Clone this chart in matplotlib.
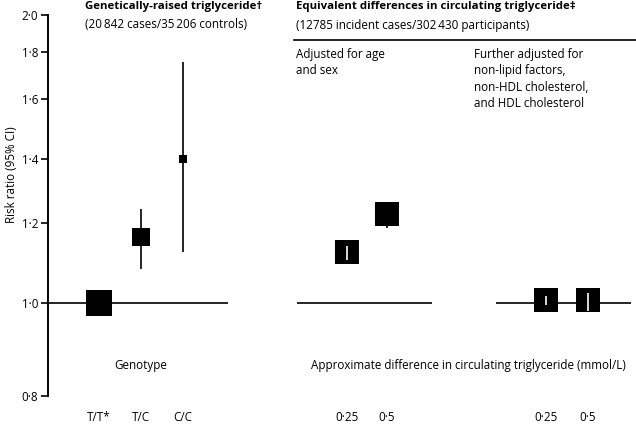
import numpy as np
import matplotlib
matplotlib.use("Agg")
import matplotlib.pyplot as plt
from matplotlib.lines import Line2D

plt.rcParams['font.family'] = ['Open Sans', 'DejaVu Sans']

# ---- data ----
geno_labels = ["T/T*", "T/C", "C/C"]
geno_rr = [1.0, 1.167, 1.40]
geno_lo = [1.0, 1.087, 1.128]
geno_hi = [1.0, 1.245, 1.757]

diff_labels = ["0·25", "0·5"]
agesex_rr = [1.128, 1.228]
agesex_lo = [1.108, 1.188]
agesex_hi = [1.143, 1.264]

full_rr = [1.007, 1.007]
full_lo = [0.996, 0.983]
full_hi = [1.017, 1.025]

y_ticks = [0.8, 1.0, 1.2, 1.4, 1.6, 1.8, 2.0]
y_ticklabels = ["0·8", "1·0", "1·2", "1·4", "1·6", "1·8", "2·0"]

# printed axis is roughly log but hand-spaced; heights of each tick (px above 0.8)
tick_heights = [0, 93, 173, 238, 298, 345, 382]

def fwd(v):
    return np.interp(v, y_ticks, tick_heights)

def inv(h):
    return np.interp(h, tick_heights, y_ticks)

# ---- layout (pixels) ----
W, H = 636, 426
DPI = 100
AX_TOP, AX_BOT = 15, 396
FS = 8.4

fig = plt.figure(figsize=(W / DPI, H / DPI), dpi=DPI)
fig.patch.set_facecolor("white")

def fx(px):
    return px / W

def fy(py):
    return 1 - py / H

def px2pt(px):
    return px * 72 / DPI

panels = [
    # x0, x1 (px), xlim, labels, rr, lo, hi, box sizes (px)
    (48, 228, (-1.20, 3.06), geno_labels, geno_rr, geno_lo, geno_hi, [25.5, 18, 7.5]),
    (297, 432, (-1.24, 2.12), diff_labels, agesex_rr, agesex_lo, agesex_hi, [24.5, 24.5]),
    (496, 631, (-1.19, 2.04), diff_labels, full_rr, full_lo, full_hi, [24, 24]),
]

axes = []
for k, (x0, x1, xl, labels, rr, lo, hi, box) in enumerate(panels):
    ax = fig.add_axes([fx(x0), fy(AX_BOT), fx(x1 - x0), (AX_BOT - AX_TOP) / H])
    ax.set_yscale("function", functions=(fwd, inv))
    ax.set_ylim(0.8, 2.0)
    ax.set_xlim(*xl)
    ax.patch.set_alpha(0)
    for s in ["top", "right", "bottom"]:
        ax.spines[s].set_visible(False)
    if k == 0:
        ax.spines["left"].set_linewidth(1.4)
        ax.set_yticks(y_ticks)
        ax.set_yticklabels(y_ticklabels, fontsize=FS)
        ax.tick_params(axis="y", length=5, width=1.2, pad=2)
        ax.yaxis.set_minor_locator(matplotlib.ticker.NullLocator())
    else:
        ax.spines["left"].set_visible(False)
        ax.set_yticks([])
        ax.yaxis.set_minor_locator(matplotlib.ticker.NullLocator())
    ax.set_xticks(range(len(labels)))
    ax.set_xticklabels(labels, fontsize=FS)
    ax.tick_params(axis="x", length=0, pad=11)

    ax.axhline(1.0, color="black", lw=1.2, zorder=1)
    xs = np.arange(len(labels))
    for i in xs:
        if hi[i] > lo[i]:
            ax.vlines(i, lo[i], hi[i], color="black", lw=1.2, zorder=2)
        ax.plot(i, rr[i], marker="s", ms=px2pt(box[i]), color="black",
                mec="black", mew=0, zorder=3)
        # CI hidden inside the box -> draw it in white
        if hi[i] > lo[i]:
            _, yc = ax.transData.transform((i, rr[i]))
            _, ylo = ax.transData.transform((i, lo[i]))
            _, yhi = ax.transData.transform((i, hi[i]))
            half = box[i] / 2
            if ylo > yc - half and yhi < yc + half:
                ax.vlines(i, lo[i], hi[i], color="white", lw=1.2, zorder=4)
    axes.append(ax)

# ---- texts ----
fig.text(fx(12), fy(175), "Risk ratio (95% CI)", rotation=90,
         ha="center", va="center", fontsize=FS)

fig.text(fx(85), fy(7), "Genetically-raised triglyceride†", fontsize=FS - 0.2,
         fontweight="bold", ha="left", va="center")
fig.text(fx(85), fy(25), "(20\u2009842 cases/35\u2009206 controls)", fontsize=FS,
         ha="left", va="center")

fig.text(fx(296), fy(7), "Equivalent differences in circulating triglyceride‡",
         fontsize=FS - 0.2, fontweight="bold", ha="left", va="center")
fig.text(fx(296), fy(25), "(12785 incident cases/302\u2009430 participants)",
         fontsize=FS, ha="left", va="center")
fig.add_artist(Line2D([fx(294), 1.0], [fy(40), fy(40)], color="black", lw=1.2))

fig.text(fx(296), fy(48), "Adjusted for age\nand sex", fontsize=FS,
         ha="left", va="top", linespacing=1.33)
fig.text(fx(474), fy(48),
         "Further adjusted for\nnon-lipid factors,\nnon-HDL cholesterol,\nand HDL cholesterol",
         fontsize=FS, ha="left", va="top", linespacing=1.33)

fig.text(fx(141), fy(366), "Genotype", fontsize=FS, ha="center", va="center")
fig.text(fx(468), fy(366), "Approximate difference in circulating triglyceride (mmol/L)",
         fontsize=FS, ha="center", va="center")

fig.savefig("out.png", dpi=DPI, facecolor="white")
